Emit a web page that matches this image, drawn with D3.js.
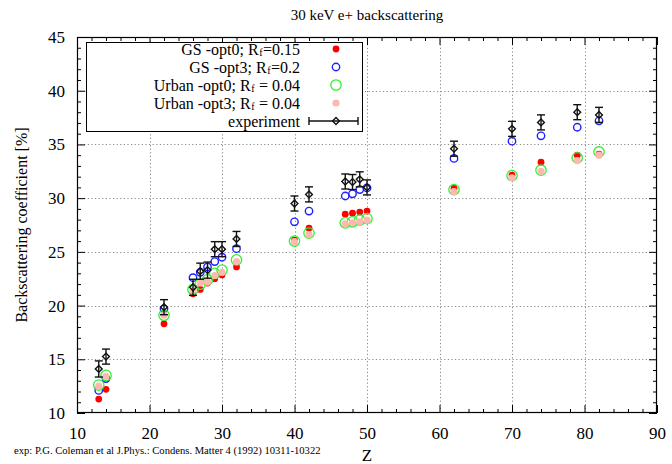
<!DOCTYPE html>
<html>
<head>
<meta charset="utf-8">
<script src="https://cdn.jsdelivr.net/npm/d3@7"></script>
<style>
  html, body { margin: 0; padding: 0; background: #fff; }
  svg { display: block; }
  text { font-family: "Liberation Serif", "DejaVu Serif", serif; fill: #000; }
</style>
</head>
<body>
<svg id="chart" width="672" height="464"></svg>
<script>
// Atomic number of each target
const Z = [13, 14, 22, 26, 27, 28, 29, 30, 32, 40, 42, 47, 48, 49, 50, 62, 70, 74, 79, 82];

// Simulated backscattering coefficients [%]
const gsOpt0    = [11.3, 12.2, 18.3, 21.1, 21.5, 22.1, 22.5, 22.85, 23.6, 26.1, 27.2, 28.5, 28.6, 28.7, 28.8, 30.9, 32.15, 33.35, 34.0, 34.1];
const gsOpt3    = [12.1, 13.2, 19.7, 22.6, 23.1, 23.6, 24.1, 24.5, 25.3, 27.8, 28.8, 30.2, 30.4, 30.8, 30.95, 33.7, 35.3, 35.8, 36.6, 37.2];
const urbanOpt0 = [12.6, 13.5, 19.1, 21.5, 22.0, 22.4, 23.0, 23.3, 24.25, 26.0, 26.75, 27.7, 27.8, 27.95, 28.1, 30.8, 32.1, 32.6, 33.75, 34.3];
const urbanOpt3 = [12.5, 13.4, 19.1, 21.4, 22.1, 22.2, 22.8, 23.1, 24.1, 25.95, 26.6, 27.6, 27.7, 27.8, 27.95, 30.6, 31.9, 32.5, 33.5, 34.0];

// Measured values and their uncertainties [%]
const expVal = [14.1, 15.25, 19.85, 21.7, 23.2, 23.3, 25.25, 25.25, 26.2, 29.5, 30.35, 31.55, 31.5, 31.75, 31.0, 34.6, 36.45, 37.05, 38.0, 37.75];
const expErr = [0.75, 0.7, 0.7, 0.75, 0.75, 0.75, 0.7, 0.7, 0.7, 0.7, 0.7, 0.7, 0.7, 0.7, 0.7, 0.7, 0.7, 0.7, 0.7, 0.7];

// Axis ticks
const xTicks = [10, 20, 30, 40, 50, 60, 70, 80, 90];
const yTicks = [10, 15, 20, 25, 30, 35, 40, 45];

const svg = d3.select("#chart");
const L = 77, R = 657, T = 37, B = 413;

const x = d3.scaleLinear().domain([10, 90]).range([L, R]);
const y = d3.scaleLinear().domain([10, 45]).range([B, T]);

// Grid
const grid = svg.append("g").attr("stroke", "#888").attr("stroke-width", 1).attr("stroke-dasharray", "1.2,2.4");
grid.selectAll("line.gx").data(xTicks.slice(1, -1)).join("line")
  .attr("x1", d => Math.round(x(d)) + 0.5).attr("x2", d => Math.round(x(d)) + 0.5)
  .attr("y1", T).attr("y2", B);
grid.selectAll("line.gy").data(yTicks.slice(1, -1)).join("line")
  .attr("y1", d => Math.round(y(d)) + 0.5).attr("y2", d => Math.round(y(d)) + 0.5)
  .attr("x1", L).attr("x2", R);

// Axes with inward ticks on all four sides
const xMinor = d3.range(10, 90.1, 2).filter(v => v % 10 !== 0);
const yMinor = d3.range(10, 45.1, 1).filter(v => v % 5 !== 0);

function styleAxis(g) {
  g.select(".domain").remove();
  g.selectAll("line").attr("stroke", "#000");
}

svg.append("g").attr("transform", `translate(0,${B})`)
  .call(d3.axisBottom(x).tickValues(xTicks).tickSize(-8).tickPadding(14).tickFormat(d3.format("d")))
  .call(styleAxis)
  .call(g => g.selectAll("text").attr("font-size", 17).attr("font-family", "Liberation Serif"));
svg.append("g").attr("transform", `translate(0,${B})`)
  .call(d3.axisBottom(x).tickValues(xMinor).tickSize(-4).tickFormat(""))
  .call(styleAxis);
svg.append("g").attr("transform", `translate(0,${T})`)
  .call(d3.axisTop(x).tickValues(xTicks).tickSize(-8).tickFormat(""))
  .call(styleAxis);
svg.append("g").attr("transform", `translate(0,${T})`)
  .call(d3.axisTop(x).tickValues(xMinor).tickSize(-4).tickFormat(""))
  .call(styleAxis);

svg.append("g").attr("transform", `translate(${L},0)`)
  .call(d3.axisLeft(y).tickValues(yTicks).tickSize(-8).tickPadding(12).tickFormat(d3.format("d")))
  .call(styleAxis)
  .call(g => g.selectAll("text").attr("font-size", 17).attr("font-family", "Liberation Serif"));
svg.append("g").attr("transform", `translate(${L},0)`)
  .call(d3.axisLeft(y).tickValues(yMinor).tickSize(-4).tickFormat(""))
  .call(styleAxis);
svg.append("g").attr("transform", `translate(${R},0)`)
  .call(d3.axisRight(y).tickValues(yTicks).tickSize(-8).tickFormat(""))
  .call(styleAxis);
svg.append("g").attr("transform", `translate(${R},0)`)
  .call(d3.axisRight(y).tickValues(yMinor).tickSize(-4).tickFormat(""))
  .call(styleAxis);

// Frame
svg.append("rect").attr("x", L + 0.5).attr("y", T + 0.5)
  .attr("width", R - L - 1).attr("height", B - T - 1)
  .attr("fill", "none").attr("stroke", "#000").attr("stroke-width", 1.2);

// Series drawing helpers
const series = [
  { name: "GS -opt0; ", rf: "=0.15", values: gsOpt0, kind: "dot", color: "#ff0000", r: 3.4 },
  { name: "GS -opt3; ", rf: "=0.2", values: gsOpt3, kind: "ring", color: "#2020ff", r: 3.7, sw: 1.4 },
  { name: "Urban -opt0; ", rf: " = 0.04", values: urbanOpt0, kind: "ring", color: "#33ee33", r: 5.2, sw: 1.3 },
  { name: "Urban -opt3; ", rf: " = 0.04", values: urbanOpt3, kind: "dot", color: "#ffb8b0", r: 3.6 }
];

function drawMarker(g, s, cx, cy) {
  if (s.kind === "dot") {
    g.append("circle").attr("cx", cx).attr("cy", cy).attr("r", s.r).attr("fill", s.color);
  } else {
    g.append("circle").attr("cx", cx).attr("cy", cy).attr("r", s.r)
      .attr("fill", "none").attr("stroke", s.color).attr("stroke-width", s.sw);
  }
}

const marks = svg.append("g");
series.forEach(s => {
  const g = marks.append("g");
  s.values.forEach((v, i) => drawMarker(g, s, x(Z[i]), y(v)));
});

// Experimental points with error bars
function drawExp(g, cx, cy, lo, hi, horizontal) {
  const cap = 4;
  if (horizontal) {
    g.append("line").attr("x1", lo).attr("x2", hi).attr("y1", cy).attr("y2", cy);
    g.append("line").attr("x1", lo).attr("x2", lo).attr("y1", cy - cap).attr("y2", cy + cap);
    g.append("line").attr("x1", hi).attr("x2", hi).attr("y1", cy - cap).attr("y2", cy + cap);
  } else {
    g.append("line").attr("x1", cx).attr("x2", cx).attr("y1", lo).attr("y2", hi);
    g.append("line").attr("x1", cx - cap).attr("x2", cx + cap).attr("y1", lo).attr("y2", lo);
    g.append("line").attr("x1", cx - cap).attr("x2", cx + cap).attr("y1", hi).attr("y2", hi);
  }
  const d = 3.4;
  g.append("path")
    .attr("d", `M${cx},${cy - d}L${cx + d},${cy}L${cx},${cy + d}L${cx - d},${cy}Z`)
    .attr("fill", "none");
}
const expG = marks.append("g").attr("stroke", "#111").attr("stroke-width", 1.4);
expVal.forEach((v, i) => {
  drawExp(expG, x(Z[i]), y(v), y(v + expErr[i]), y(v - expErr[i]), false);
});

// Legend
const lg = svg.append("g");
lg.append("rect").attr("x", 86.5).attr("y", 42.5).attr("width", 276).attr("height", 89)
  .attr("fill", "#fff").attr("stroke", "#000").attr("stroke-width", 1);
const rowY = [49, 67, 85, 103, 121];
const textRight = 300, sampleX = 336;
series.forEach((s, i) => {
  const t = lg.append("text").attr("x", textRight).attr("y", rowY[i] + 5.5)
    .attr("text-anchor", "end").attr("font-size", 16);
  t.append("tspan").text(s.name + "R");
  t.append("tspan").attr("font-size", 10).attr("dx", 0.5).attr("dy", 1.5).text("f");
  t.append("tspan").attr("dx", 0.5).attr("dy", -1.5).text(s.rf);
  drawMarker(lg, s, sampleX, rowY[i]);
});
lg.append("text").attr("x", textRight).attr("y", rowY[4] + 5.5)
  .attr("text-anchor", "end").attr("font-size", 16).text("experiment");
const lgExp = lg.append("g").attr("stroke", "#111").attr("stroke-width", 1.4);
drawExp(lgExp, sampleX, rowY[4], 309, 358, true);

// Titles and notes
svg.append("text").attr("x", 367).attr("y", 20).attr("text-anchor", "middle")
  .attr("font-size", 15).text("30 keV e+ backscattering");
svg.append("text").attr("x", 367).attr("y", 461).attr("text-anchor", "middle")
  .attr("font-size", 17).text("Z");
svg.append("text").attr("transform", `translate(27,${(T + B) / 2}) rotate(-90)`)
  .attr("text-anchor", "middle").attr("font-size", 16).text("Backscattering coefficient [%]");
svg.append("text").attr("x", 14).attr("y", 454).attr("font-size", 10.6)
  .text("exp: P.G. Coleman et al J.Phys.: Condens. Matter 4 (1992) 10311-10322");
</script>
</body>
</html>
